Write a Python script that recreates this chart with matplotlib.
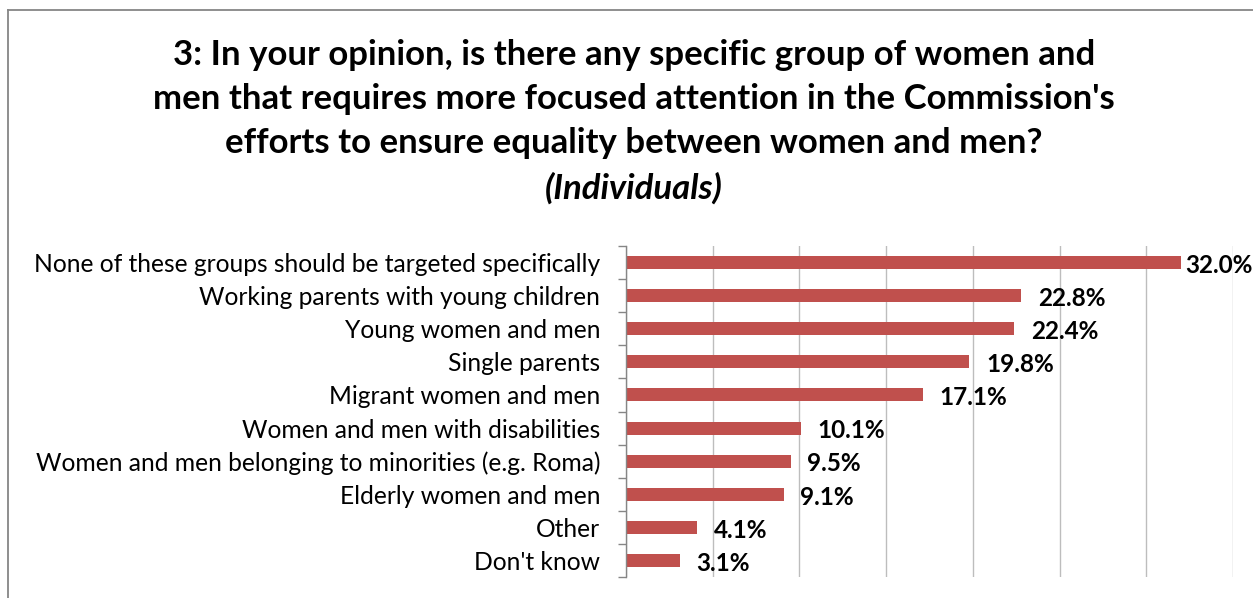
import numpy as np
import matplotlib.pyplot as plt
from matplotlib.lines import Line2D

categories = [
    "None of these groups should be targeted specifically",
    "Working parents with young children",
    "Young women and men",
    "Single parents",
    "Migrant women and men",
    "Women and men with disabilities",
    "Women and men belonging to minorities (e.g. Roma)",
    "Elderly women and men",
    "Other",
    "Don't know",
]
values = [32.0, 22.8, 22.4, 19.8, 17.1, 10.1, 9.5, 9.1, 4.1, 3.1]
title_lines = [
    "3: In your opinion, is there any specific group of women and",
    "men that requires more focused attention in the Commission's",
    "efforts to ensure equality between women and men?",
]
subtitle = "(Individuals)"

plt.rcParams['font.family'] = ['Lato', 'DejaVu Sans']

W, H = 1253, 598
fig = plt.figure(figsize=(W / 100, H / 100), dpi=100)
ax = fig.add_axes([626 / W, 1 - 577 / H, (1233 - 626) / W, (577 - 246) / H])

y = np.arange(len(categories))
ax.barh(y, values, height=0.39, color="#C0504D", zorder=3)
ax.set_ylim(len(categories) - 0.5, -0.5)
ax.set_xlim(0, 35)

# vertical gridlines every 5%
ax.set_xticks(np.arange(0, 36, 5))
ax.xaxis.grid(True, color="#BDBDBD", linewidth=1.0, zorder=0)
ax.tick_params(axis="x", length=0, labelbottom=False)

ax.set_yticks(y)
ax.set_yticklabels(categories, fontsize=17.7, color="#000000")
ax.tick_params(axis="y", which="major", length=0, pad=18.5)
ax.set_yticks(np.arange(-0.5, len(categories), 1), minor=True)
ax.tick_params(axis="y", which="minor", length=5.8, width=1.0, color="#868686")

for side in ["top", "right", "bottom"]:
    ax.spines[side].set_visible(False)
ax.spines["left"].set_color("#868686")
ax.spines["left"].set_linewidth(1.0)
ax.spines["left"].set_zorder(4)

# value labels; the longest bar's label is pulled in so it stays inside the figure
for i, v in enumerate(values):
    off = 3 if v == max(values) else 12
    ax.annotate(f"{v:.1f}%", xy=(v, i), xytext=(off, -2), textcoords="offset points",
                ha="left", va="center", fontsize=17.5, fontweight="bold", color="#000000")

# title
title_y = [55, 99, 143]
for line, ty in zip(title_lines, title_y):
    fig.text(634 / W, 1 - ty / H, line, ha="center", va="center",
             fontsize=25, fontweight="bold", color="#000000")
fig.text(634 / W, 1 - 188 / H, subtitle, ha="center", va="center",
         fontsize=25, fontweight="bold", fontstyle="italic", color="#000000")

# chart area border
fig.add_artist(Line2D([8 / W, 1.0], [1 - 10 / H, 1 - 10 / H], color="#868686", linewidth=1.3))
fig.add_artist(Line2D([8 / W, 8 / W], [1 - 10 / H, 0.0], color="#868686", linewidth=1.3))

fig.savefig("out.png", dpi=100)
